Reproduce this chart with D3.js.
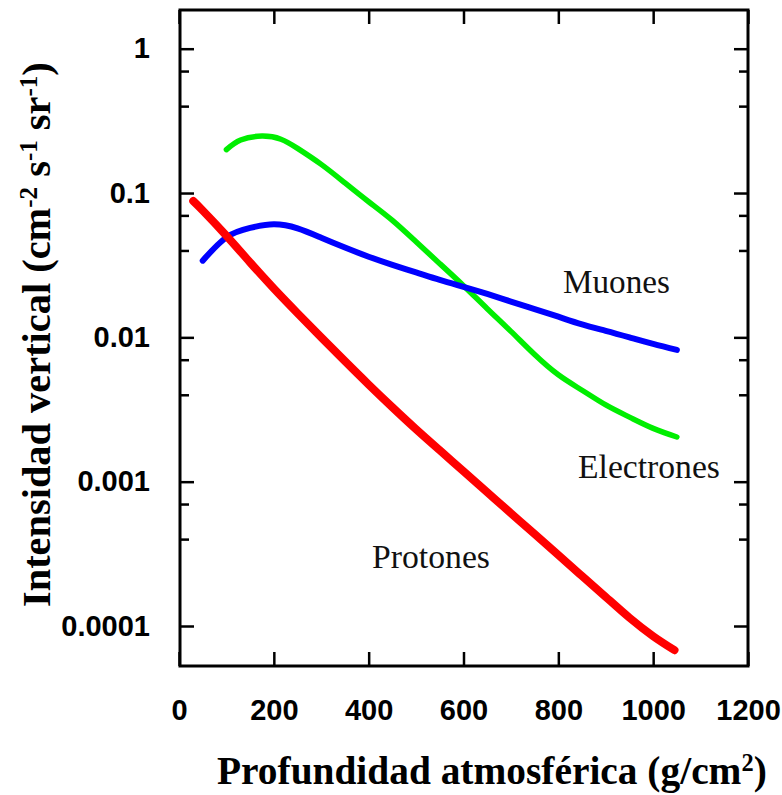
<!DOCTYPE html>
<html>
<head>
<meta charset="utf-8">
<script src="https://cdn.jsdelivr.net/npm/d3@7"></script>
<style>
  html, body { margin: 0; padding: 0; background: #fff; }
  svg { display: block; }
</style>
</head>
<body>
<div id="chart"></div>
<script>
// Intensidad vertical de rayos cosmicos vs profundidad atmosferica

const xTicks = [0, 200, 400, 600, 800, 1000, 1200];
const yTicks = [1, 0.1, 0.01, 0.001, 0.0001];
const yTickLabels = ['1', '0.1', '0.01', '0.001', '0.0001'];
const yMinorTicks = [0.7, 0.4, 0.07, 0.04, 0.007, 0.004, 0.0007, 0.0004];

// Protones
const protonDepth = [30, 50, 100, 150, 200, 250, 300, 350, 400, 450, 500, 550, 600, 650, 700, 750, 800, 850, 900, 950, 1000, 1045];
const protonFlux = [0.088, 0.0757, 0.0506, 0.033, 0.0218, 0.0147, 0.01, 0.00684, 0.00471, 0.00328, 0.00231, 0.00165, 0.00118,
    0.000845, 0.000605, 0.000434, 0.00031, 0.000222, 0.000159, 0.000114, 0.000085, 0.000068];

// Muones
const muonDepth = [50, 100, 150, 200, 250, 300, 350, 400, 450, 500, 550, 600, 650, 700, 750, 800, 850, 900, 950, 1000, 1050];
const muonFlux = [0.034, 0.0493, 0.0573, 0.0607, 0.0569, 0.049, 0.0419, 0.0362, 0.0318, 0.0282, 0.025, 0.0224, 0.02, 0.0177,
    0.0157, 0.0139, 0.0123, 0.0111, 0.01, 0.009, 0.00818];

// Electrones
const electronDepth = [100, 130, 175, 215, 250, 300, 350, 400, 450, 500, 550, 600, 650, 700, 750, 800, 850, 900, 950, 1000, 1050];
const electronFlux = [0.2, 0.233, 0.248, 0.236, 0.204, 0.158, 0.1175, 0.087, 0.0646, 0.0459, 0.0324, 0.0228, 0.0158, 0.011,
    0.0076, 0.0055, 0.0043, 0.0034, 0.0028, 0.00234, 0.00204];

const width = 782;
const height = 795;
const frame = { left: 180, right: 748, top: 10, bottom: 666 };

const svg = d3.select('#chart').append('svg')
    .attr('width', width)
    .attr('height', height);

const xScale = d3.scaleLinear()
    .domain([0, 1200])
    .range([179, 748]);

const yScale = d3.scaleLog()
    .domain([0.0001, 1])
    .range([626, 48.7]);

function toPoints(depths, fluxes) {
    return depths.map((d, i) => ({ x: d, y: fluxes[i] }));
}

const series = [
    { name: 'Electrones', points: toPoints(electronDepth, electronFlux), color: '#00ee00', width: 5.5 },
    { name: 'Muones', points: toPoints(muonDepth, muonFlux), color: '#0000ff', width: 6 },
    { name: 'Protones', points: toPoints(protonDepth, protonFlux), color: '#ff0000', width: 8 }
];

const line = d3.line()
    .x(d => xScale(d.x))
    .y(d => yScale(d.y))
    .curve(d3.curveNatural);

// Curves
series.forEach(s => {
    svg.append('path')
        .datum(s.points)
        .attr('fill', 'none')
        .attr('stroke', s.color)
        .attr('stroke-width', s.width)
        .attr('stroke-linecap', 'round')
        .attr('stroke-linejoin', 'round')
        .attr('d', line);
});

const tickFont = '"Liberation Sans", Arial, sans-serif';

function styleAxis(g) {
    g.select('.domain').remove();
    g.selectAll('.tick line').attr('stroke', '#000').attr('stroke-width', 2.5);
    g.selectAll('.tick text')
        .attr('fill', '#000')
        .style('font-family', tickFont)
        .style('font-size', '29px')
        .style('font-weight', 'bold');
}

// Left axis (major + minor)
svg.append('g')
    .attr('transform', `translate(${frame.left},0)`)
    .call(d3.axisLeft(yScale).tickValues(yTicks).tickSize(-14).tickPadding(30)
        .tickFormat((d, i) => yTickLabels[i]))
    .call(styleAxis);

svg.append('g')
    .attr('transform', `translate(${frame.left},0)`)
    .call(d3.axisLeft(yScale).tickValues(yMinorTicks).tickSize(-9).tickFormat(''))
    .call(styleAxis);

// Right axis (mirror)
svg.append('g')
    .attr('transform', `translate(${frame.right},0)`)
    .call(d3.axisRight(yScale).tickValues(yTicks).tickSize(-14).tickFormat(''))
    .call(styleAxis);

svg.append('g')
    .attr('transform', `translate(${frame.right},0)`)
    .call(d3.axisRight(yScale).tickValues(yMinorTicks).tickSize(-9).tickFormat(''))
    .call(styleAxis);

// Bottom axis
svg.append('g')
    .attr('transform', `translate(0,${frame.bottom})`)
    .call(d3.axisBottom(xScale).tickValues(xTicks).tickSize(-14).tickPadding(33)
        .tickFormat(d3.format('d')))
    .call(styleAxis);

// Top axis (mirror)
svg.append('g')
    .attr('transform', `translate(0,${frame.top})`)
    .call(d3.axisTop(xScale).tickValues(xTicks).tickSize(-14).tickFormat(''))
    .call(styleAxis);

// Frame
svg.append('rect')
    .attr('x', frame.left)
    .attr('y', frame.top)
    .attr('width', frame.right - frame.left)
    .attr('height', frame.bottom - frame.top)
    .attr('fill', 'none')
    .attr('stroke', '#000')
    .attr('stroke-width', 3);

const serif = '"Liberation Serif", "Times New Roman", serif';

// Fit a text element to a target width by scaling its font size
function fitWidth(sel, target) {
    const size = parseFloat(sel.style('font-size'));
    const w = sel.node().getComputedTextLength();
    sel.style('font-size', (size * target / w) + 'px');
}

// Series labels
const labels = [
    { text: 'Muones', x: 563, y: 293, w: 107 },
    { text: 'Electrones', x: 578, y: 478, w: 142 },
    { text: 'Protones', x: 372, y: 568, w: 118 }
];

labels.forEach(l => {
    const t = svg.append('text')
        .attr('x', l.x)
        .attr('y', l.y)
        .style('font-family', serif)
        .style('font-size', '33px')
        .attr('fill', '#111')
        .text(l.text);
    fitWidth(t, l.w);
});

// X axis title
const xTitle = svg.append('text')
    .attr('x', 217)
    .attr('y', 784)
    .style('font-family', serif)
    .style('font-size', '38px')
    .style('font-weight', 'bold')
    .attr('fill', '#000');
xTitle.append('tspan').text('Profundidad atmosférica (g/cm');
xTitle.append('tspan').attr('baseline-shift', 'super').style('font-size', '0.62em').text('2');
xTitle.append('tspan').text(')');
fitWidth(xTitle, 550);

// Y axis title
const yTitle = svg.append('text')
    .attr('transform', 'translate(50,607) rotate(-90)')
    .attr('x', 0)
    .attr('y', 0)
    .style('font-family', serif)
    .style('font-size', '38px')
    .style('font-weight', 'bold')
    .attr('fill', '#000');
yTitle.append('tspan').text('Intensidad vertical (cm');
yTitle.append('tspan').attr('baseline-shift', 'super').style('font-size', '0.62em').text('-2');
yTitle.append('tspan').text(' s');
yTitle.append('tspan').attr('baseline-shift', 'super').style('font-size', '0.62em').text('-1');
yTitle.append('tspan').text(' sr');
yTitle.append('tspan').attr('baseline-shift', 'super').style('font-size', '0.62em').text('-1');
yTitle.append('tspan').text(')');
fitWidth(yTitle, 545);
</script>
</body>
</html>
